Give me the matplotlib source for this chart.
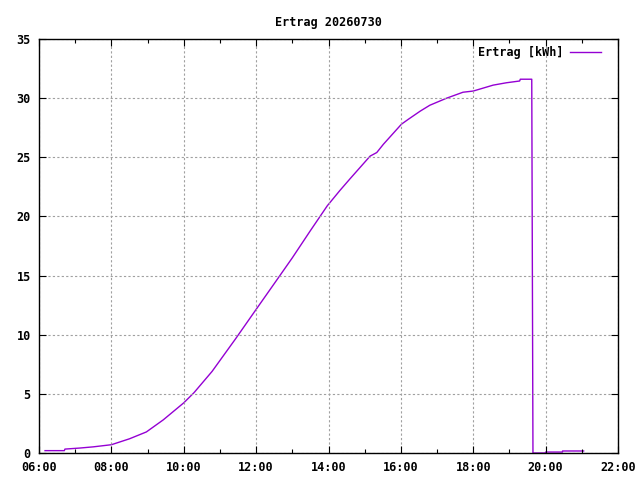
import matplotlib
matplotlib.use("Agg")
import matplotlib.pyplot as plt
from matplotlib.ticker import FuncFormatter, MultipleLocator

# Ertrag readings (time of day, cumulative kWh)
times = ["06:10", "06:42", "06:43", "07:08", "07:30", "08:00", "08:30", "08:58",
         "09:26", "10:00", "10:17", "10:47", "11:26", "12:00", "12:39", "13:00",
         "13:30", "13:58", "14:19", "14:36", "15:09", "15:20", "15:31", "16:01",
         "16:12", "16:32", "16:48", "17:16", "17:43", "18:00", "18:33", "18:55",
         "19:17", "19:18", "19:37", "19:38", "19:39", "20:00", "20:00", "20:28",
         "20:28", "21:03"]
ertrag = [0.2, 0.2, 0.33, 0.42, 0.52, 0.7, 1.2, 1.78,
          2.8, 4.24, 5.1, 6.9, 9.66, 12.14, 14.97, 16.5,
          18.8, 20.9, 22.2, 23.2, 25.1, 25.4, 26.1, 27.8,
          28.2, 28.9, 29.4, 30.0, 30.5, 30.6, 31.1, 31.3,
          31.45, 31.6, 31.6, 15.8, 0.0, 0.0, 0.08, 0.08,
          0.17, 0.17]
title = "Ertrag 20260730"
label = "Ertrag [kWh]"


def to_hours(s):
    h, m = s.split(":")
    return int(h) + int(m) / 60.0


hours = [to_hours(t) for t in times]

font = {"family": "DejaVu Sans Mono", "weight": "bold", "size": 8.5}

fig = plt.figure(figsize=(6.4, 4.8), dpi=100)
ax = fig.add_axes([39 / 640, 1 - 453 / 480, (618 - 39) / 640, (453 - 39) / 480])

ax.plot(hours, ertrag, color="#9400d3", lw=1.0, label=label, zorder=1.5)

ax.set_xlim(6, 22)
ax.set_ylim(0, 35)
ax.xaxis.set_major_locator(MultipleLocator(2))
ax.xaxis.set_minor_locator(MultipleLocator(1))
ax.yaxis.set_major_locator(MultipleLocator(5))
ax.xaxis.set_major_formatter(FuncFormatter(lambda v, p: "%02d:00" % int(round(v))))

ax.tick_params(which="both", direction="in", top=True, right=True, width=0.8, color="black")
ax.tick_params(which="major", length=5)
ax.tick_params(which="minor", length=3)
ax.tick_params(axis="x", pad=6)
ax.tick_params(axis="y", pad=6)
for lab in ax.get_xticklabels() + ax.get_yticklabels():
    lab.set_fontproperties(font)
for sp in ax.spines.values():
    sp.set_linewidth(1.0)
    sp.set_zorder(3)

ax.grid(True, which="major", color="#a0a0a0", lw=0.8, linestyle=(0, (2, 2)))

ax.set_title(title, fontdict=font, pad=9)

leg = ax.legend(loc="upper right", frameon=False, prop=font, markerfirst=False,
                handlelength=2.6, bbox_to_anchor=(1 - 10 / 579, 1.0),
                borderaxespad=0.2, handletextpad=0.6)

fig.savefig("out.png", dpi=100)
